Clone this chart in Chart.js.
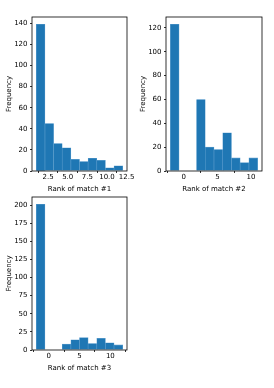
<!DOCTYPE html>
<html lang="en">
<head>
  <meta charset="UTF-8">
  <title>Rank of match histograms</title>
  <script src="https://cdn.jsdelivr.net/npm/chart.js"></script>
  <style>
    body { margin: 0; background: #fff; width: 274px; height: 388px; position: relative; overflow: hidden; }
    canvas { position: absolute; }
  </style>
</head>
<body>
  <canvas id="hist1" width="135" height="186" style="left:0px;top:9px"></canvas>
  <canvas id="hist2" width="136" height="186" style="left:134px;top:9px"></canvas>
  <canvas id="hist3" width="135" height="185" style="left:0px;top:189px"></canvas>

  <script>
    // bin centres and counts
    const centers1 = [1.55, 2.65, 3.75, 4.85, 5.95, 7.05, 8.15, 9.25, 10.35, 11.45];
    const counts1  = [139, 45, 26, 22, 11, 9, 12, 10, 3, 5];
    const centers2 = [-1.35, -0.05, 1.25, 2.55, 3.85, 5.15, 6.45, 7.75, 9.05, 10.35];
    const counts2  = [123, 0, 0, 60, 20, 18, 32, 11, 7, 11];
    const centers3 = [-1.3, 0.1, 1.5, 2.9, 4.3, 5.7, 7.1, 8.5, 9.9, 11.3];
    const counts3  = [201, 0, 0, 8, 14, 17, 9, 16, 10, 7];

    // tick labels
    const xTicks1 = ['2.5', '5.0', '7.5', '10.0', '12.5'];
    const xTicks2 = ['0', '5', '10'];
    const xTicks3 = ['0', '5', '10'];
    const yTicks1 = [0, 20, 40, 60, 80, 100, 120, 140];
    const yTicks2 = [0, 20, 40, 60, 80, 100, 120];
    const yTicks3 = [0, 25, 50, 75, 100, 125, 150, 175, 200];

    const font = { family: 'DejaVu Sans', size: 7 };

    // full black box round the axes, like matplotlib spines
    const boxPlugin = {
      id: 'box',
      afterDatasetsDraw(chart) {
        const a = chart.chartArea, ctx = chart.ctx;
        ctx.save();
        ctx.strokeStyle = '#000';
        ctx.lineWidth = 0.8;
        ctx.strokeRect(a.left, a.top, a.right - a.left, a.bottom - a.top);
        ctx.restore();
      }
    };

    function makeHist(id, centers, counts, xMin, xMax, yMax, xTicks, yTicks, label) {
      const xVals = xTicks.map(Number);
      new Chart(document.getElementById(id), {
        type: 'bar',
        data: {
          datasets: [{
            data: centers.map((c, i) => ({ x: c, y: counts[i] })),
            backgroundColor: '#1f77b4',
            borderColor: '#5a9ccd',
            borderWidth: 0.6,
            barPercentage: 1,
            categoryPercentage: 1
          }]
        },
        options: {
          responsive: false,
          animation: false,
          layout: { padding: { top: 8, right: 8, left: 0, bottom: 0 } },
          plugins: { legend: { display: false }, tooltip: { enabled: false } },
          scales: {
            x: {
              type: 'linear', min: xMin, max: xMax, offset: false,
              afterFit: s => { s.height = 24; },
              afterBuildTicks: s => { s.ticks = xVals.map(v => ({ value: v })); },
              grid: { drawOnChartArea: false, tickLength: 2, tickColor: '#000', tickWidth: 0.8 },
              border: { display: false },
              ticks: {
                font: font, color: '#000', padding: 0, maxRotation: 0, autoSkip: false,
                callback: (v, i) => xTicks[i]
              },
              title: { display: true, text: label, font: font, color: '#000', padding: { top: 0, bottom: 1.5 } }
            },
            y: {
              min: 0, max: yMax,
              afterFit: s => { s.width = 32; },
              afterBuildTicks: s => { s.ticks = yTicks.map(v => ({ value: v })); },
              grid: { drawOnChartArea: false, tickLength: 2, tickColor: '#000', tickWidth: 0.8 },
              border: { display: false },
              ticks: { font: font, color: '#000', padding: 2.5, autoSkip: false },
              title: { display: true, text: 'Frequency', font: font, color: '#000', padding: { top: 5, bottom: 0 } }
            }
          }
        },
        plugins: [boxPlugin]
      });
    }

    makeHist('hist1', centers1, counts1, 0.45, 12.55, 145.95, xTicks1, yTicks1, 'Rank of match #1');
    makeHist('hist2', centers2, counts2, -2.65, 11.65, 129.15, xTicks2, yTicks2, 'Rank of match #2');
    makeHist('hist3', centers3, counts3, -2.7, 12.7, 211.05, xTicks3, yTicks3, 'Rank of match #3');
  </script>
</body>
</html>
